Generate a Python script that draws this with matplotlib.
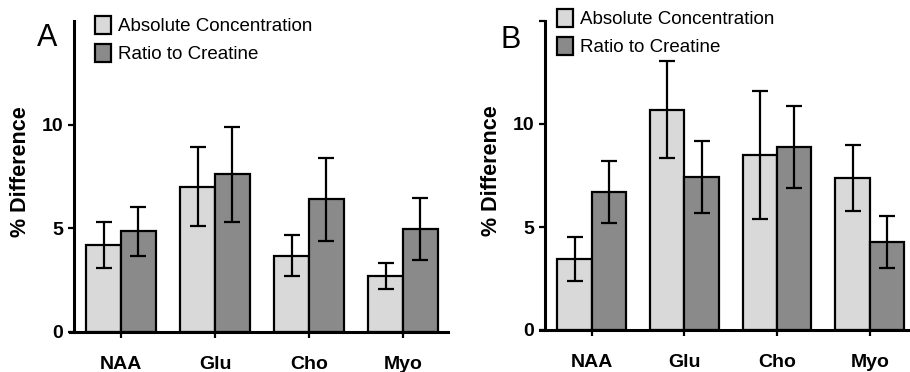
import numpy as np
import matplotlib.pyplot as plt
from matplotlib.patches import Patch

plt.rcParams['font.family'] = ['Liberation Sans', 'DejaVu Sans']

metabolites = ['NAA', 'Glu', 'Cho', 'Myo']

# panel A
a_abs = [4.2, 7.0, 3.68, 2.7]
a_abs_err = [1.1, 1.9, 1.0, 0.65]
a_ratio = [4.85, 7.6, 6.4, 4.95]
a_ratio_err = [1.2, 2.3, 2.0, 1.5]

# panel B
b_abs = [3.45, 10.7, 8.5, 7.36]
b_abs_err = [1.05, 2.35, 3.1, 1.6]
b_ratio = [6.7, 7.43, 8.87, 4.27]
b_ratio_err = [1.5, 1.75, 2.0, 1.25]

light = '#d9d9d9'
dark = '#8a8a8a'
W, H = 910, 372


def panel(rect, xlim, abs_v, abs_e, rat_v, rat_e, letter, letter_xy, leg_xy, top_tick):
    ax = fig.add_axes(rect)
    x = np.arange(len(metabolites))
    w = 0.37
    ekw = dict(elinewidth=1.6, capsize=6, capthick=1.6, ecolor='black')
    ax.bar(x - w / 2, abs_v, w, yerr=abs_e, color=light, edgecolor='black',
           linewidth=1.6, error_kw=ekw, label='Absolute Concentration')
    ax.bar(x + w / 2, rat_v, w, yerr=rat_e, color=dark, edgecolor='black',
           linewidth=1.6, error_kw=ekw, label='Ratio to Creatine')
    ax.set_xlim(*xlim)
    ax.set_ylim(0, 15)
    for s in ['top', 'right']:
        ax.spines[s].set_visible(False)
    ax.spines['left'].set_position(('data', -0.5))
    ax.spines['left'].set_linewidth(2.2)
    ax.spines['bottom'].set_linewidth(2.2)
    ax.set_xticks(x)
    ax.set_xticklabels(metabolites, fontsize=14, fontweight='bold')
    ax.tick_params(axis='x', length=4, width=1.6, pad=13)
    if top_tick:
        ax.set_yticks([0, 5, 10, 15])
        ax.set_yticklabels(['0', '5', '10', ''])
    else:
        ax.set_yticks([0, 5, 10])
    for lab in ax.get_yticklabels():
        lab.set_fontweight('bold')
        lab.set_fontsize(14)
    ax.tick_params(axis='y', length=4, width=1.6, pad=4)
    ax.set_ylabel('% Difference', fontsize=15.5, fontweight='bold')
    ax.yaxis.set_label_coords(-0.102, 0.516)
    fig.text(letter_xy[0] / W, 1 - letter_xy[1] / H, letter, fontsize=22,
             ha='left', va='baseline')
    handles = [Patch(facecolor=light, edgecolor='black', linewidth=1.6),
               Patch(facecolor=dark, edgecolor='black', linewidth=1.6)]
    fig.legend(handles, ['Absolute Concentration', 'Ratio to Creatine'],
               loc='upper left', bbox_to_anchor=(leg_xy[0] / W, 1 - leg_xy[1] / H),
               frameon=False, fontsize=13.5, handlelength=0.85, handleheight=1.1,
               handletextpad=0.35, labelspacing=0.45, borderpad=0, borderaxespad=0)
    return ax


fig = plt.figure(figsize=(9.1, 3.72), dpi=100)
panel([70 / W, 1 - 332 / H, 378 / W, 311 / H], (-0.543, 3.479),
      a_abs, a_abs_err, a_ratio, a_ratio_err, 'A', (37, 46), (95, 16), False)
panel([540 / W, 1 - 330 / H, 370 / W, 309 / H], (-0.558, 3.434),
      b_abs, b_abs_err, b_ratio, b_ratio_err, 'B', (500, 48), (557, 9), True)

fig.savefig('out.png', dpi=100)
